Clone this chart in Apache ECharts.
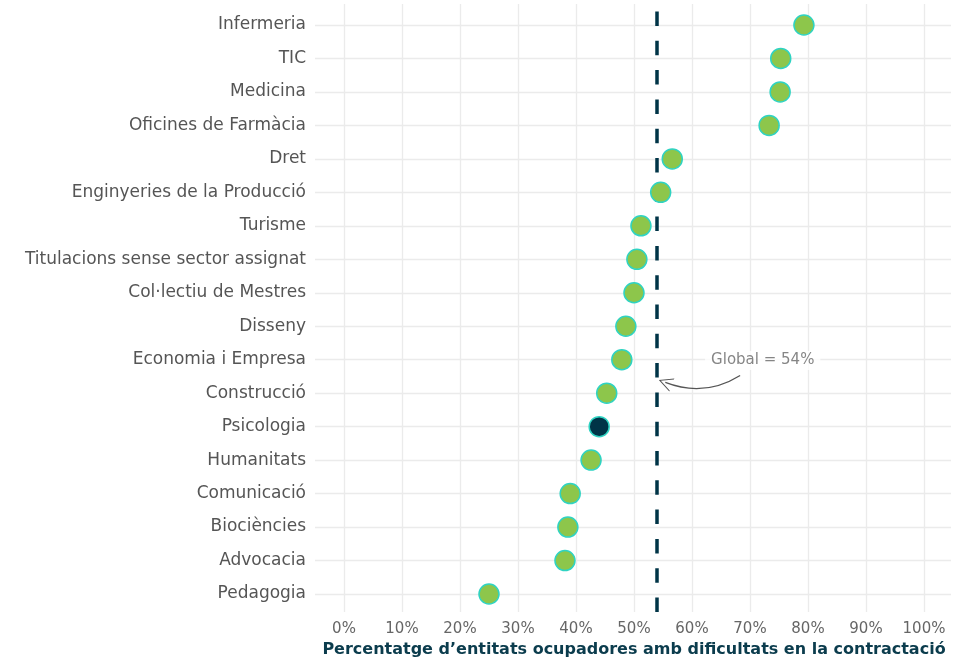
<!DOCTYPE html>
<html><head><meta charset="utf-8">
<script src="https://cdn.jsdelivr.net/npm/echarts@6/dist/echarts.min.js"></script>
<style>html,body{margin:0;padding:0;background:#fff}#c{width:961px;height:660px}</style>
</head><body><div id="c"></div>
<script>
const categories = ["Infermeria","TIC","Medicina","Oficines de Farmàcia","Dret","Enginyeries de la Producció","Turisme","Titulacions sense sector assignat","Col·lectiu de Mestres","Disseny","Economia i Empresa","Construcció","Psicologia","Humanitats","Comunicació","Biociències","Advocacia","Pedagogia"];
const values = [79.3,75.3,75.2,73.3,56.6,54.6,51.2,50.5,50.0,48.6,47.9,45.3,44.0,42.6,39.0,38.6,38.1,25.0];
const highlighted = ["Psicologia"];
const globalValue = 54;
const xTicks = {min:0, max:100, interval:10};
const annotationText = "Global = " + globalValue + "%";
const annotationPos = [72.2, 10.02];
const arrowFrom = [68.3, 10.47];
const arrowTo = [55.4, 10.68];
const axisTitle = "Percentatge d’entitats ocupadores amb dificultats en la contractació";

const FONT = "DejaVu Sans";
const green = "#8dc64b", navy = "#003447", teal = "#2fd3c2";

const chart = echarts.init(document.getElementById('c'));
chart.setOption({
  animation:false,
  backgroundColor:'#fff',
  grid:[
    {left:344, right:37, top:4, bottom:48, outerBoundsMode:'none', containLabel:false},
    {left:315, right:10, top:25, bottom:66, outerBoundsMode:'none', containLabel:false}
  ],
  xAxis:[
    {gridIndex:0, type:'value', min:xTicks.min, max:xTicks.max, interval:xTicks.interval,
     axisLine:{show:false}, axisTick:{show:false},
     axisLabel:{formatter:'{value}%', color:'#666', fontFamily:FONT, fontSize:15, margin:10},
     splitLine:{show:true, lineStyle:{color:'#ebebeb', width:1.3}},
     name:axisTitle, nameLocation:'middle', nameGap:29,
     nameTextStyle:{color:'#0b3c4d', fontWeight:'bold', fontFamily:FONT, fontSize:16}},
    {gridIndex:1, type:'value', min:-5, max:104.66, show:false}
  ],
  yAxis:[
    {gridIndex:0, type:'value', min:0, max:1, show:false},
    {gridIndex:1, type:'category', data:categories, inverse:true, boundaryGap:false,
     axisLine:{show:false}, axisTick:{show:false},
     axisLabel:{color:'#555', fontFamily:FONT, fontSize:17, margin:9},
     splitLine:{show:true, lineStyle:{color:'#ebebeb', width:1.3}}},
    {gridIndex:1, type:'value', min:0, max:17, inverse:true, show:false, position:'right'}
  ],
  series:[
    {type:'scatter', xAxisIndex:0, yAxisIndex:0, data:[], z:2,
     markLine:{silent:true, symbol:'none', label:{show:false},
       lineStyle:{color:navy, width:3.5, type:[14.5,14.8]},
       data:[{xAxis:globalValue}]}},
    {type:'lines', coordinateSystem:'cartesian2d', xAxisIndex:1, yAxisIndex:2, z:3, silent:true,
     symbol:['none','path://M0,0 L10,20 L8.4,20 L0,3.2 L-8.4,20 L-10,20 Z'], symbolSize:14,
     lineStyle:{color:'#555', width:1.3, opacity:1, curveness:0.25},
     data:[{coords:[arrowFrom, arrowTo]}]},
    {type:'scatter', xAxisIndex:1, yAxisIndex:2, z:4, symbolSize:0, silent:true,
     data:[annotationPos],
     label:{show:true, position:'inside', formatter:annotationText, color:'#666',
       fontFamily:FONT, fontSize:15, backgroundColor:'#fff', padding:[2,6]}},
    {type:'scatter', xAxisIndex:1, yAxisIndex:1, z:5, clip:false,
     symbolSize:20,
     data:categories.map((c,i)=>({value:[values[i], c],
       itemStyle:{color: highlighted.includes(c)?navy:green, borderColor:teal, borderWidth:1.5, opacity:1}}))}
  ]
});
</script></body></html>
